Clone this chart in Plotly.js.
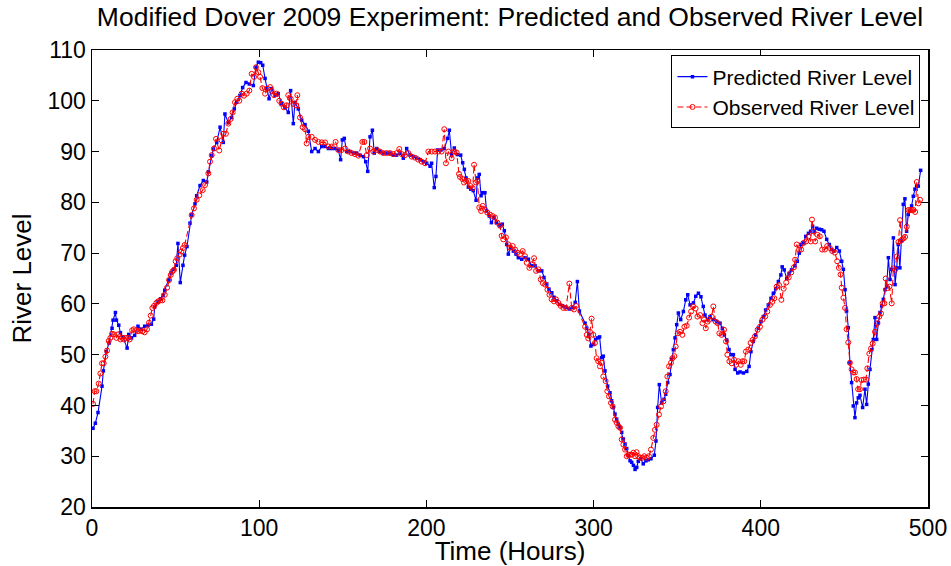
<!DOCTYPE html>
<html>
<head>
<meta charset="utf-8">
<script src="https://cdn.plot.ly/plotly-3.0.1.min.js"></script>
<style>html,body{margin:0;padding:0;background:#fff;}#chart{width:951px;height:566px;}</style>
</head>
<body>
<div id="chart"></div>
<script>
const predHours = [0.6,2,3.6,6,6.8,8.6,10.2,12,12.6,14,14.6,16,17,18.5,21,22,23.6,25.5,27.5,29.5,31.5,33.5,35.5,36.9,37.5,39.5,41,42.5,43.5,46,47.3,49,50.4,51.4,52.8,54.4,55.4,56.8,
58.6,59.6,61.6,62.6,64.6,66.6,68.6,69.6,71.6,72.6,74.6,76.6,78.5,79.5,81.5,83.5,85.1,86.5,88.5,90.1,92.1,94.1,96.5,98.1,99.5,100.9,102.1,103.5,104.5,105.9,107.5,109.5,111.4,113.4,115.4,117.4,118.8,120.4,121.4,123.4,125.4,127.4,129.4,
131.4,133.4,135.4,137.4,139.4,141.4,143.4,145.3,147.3,148.7,149.7,150.9,152.3,154.3,156.3,158.3,160.3,162.3,163.7,164.9,166.3,167.7,168.8,170.3,172.2,174.2,176.2,178.2,180.2,182.2,184.2,186.2,188.2,190.2,192.2,194.2,196.2,198.2,200.2,202.2,203.1,204.7,205.7,206.7,208.7,210.7,212.7,213.7,
215.1,216.7,218.5,220.5,221.7,222.7,223.7,225.1,226.5,228,229.7,230.5,231.6,232.7,233.7,235,236,237.6,238.9,240.4,242,244,245.4,246.6,248,249,250.4,252,253.6,255,257,259,261,263,265,267,269,270.3,272,273.3,275,276.3,277.9,279.5,281.5,283.5,285.5,287.5,289,290.3,291.5,
294.9,295.9,297.2,298.4,299.7,301.2,302.4,303.6,304.8,305.8,306.8,308.4,309.8,310.8,311.8,312.8,313.8,314.8,315.8,316.8,317.8,318.8,319.8,320.8,321.8,322.8,323.8,324.8,325.8,326.7,328.1,329.7,331.3,332.7,334.3,336.3,337.3,338.3,339.3,340.7,342.1,343.1,344.3,345.7,346.7,347.7,348.7,349.7,350.7,352.1,353.7,355.1,356.3,357.7,359.7,361.1,362.7,
364.2,365.6,366.6,368.2,369.6,371.6,373.6,375.6,377,378.2,379.6,381,382.2,383.6,384.6,386.2,387.6,389.6,391.6,393,394.1,395.5,396.9,398.5,400.1,401.5,402.9,404.5,406.1,407.5,408.9,410.5,412,412.8,414,415.5,416.9,418.4,420.4,421.8,423,424,425.4,426.9,428.5,429.8,431,432,433.4,435,436.4,437.8,439.4,441,442.4,443.8,445.4,447,448.4,449.4,450.4,451.3,452.3,453.3,454.3,455.3,456.3,457.3,458.3,
459.3,460.9,462.3,463.3,464.3,465.3,466.3,467.3,468.3,469.3,470.3,471.3,472.3,473.3,474.3,475.3,476.3,477.3,478.3,479.3,480.3,481.3,482.2,483.2,484.2,485.2,486.2,487.2,488.2,489.2,490.2,491.2,492.2,493.2,494.2,495.6];
const predLevel = [35.5,36.5,38.6,43.8,46.8,50.6,52.3,55.2,56.8,58.3,56.8,55.8,54.3,53.5,51.3,54,53.3,53.8,55.6,55,55.6,55.8,56,57,59.4,60.4,61,61.7,62.7,64.7,66.1,66.8,67.6,71.9,64.2,67.6,69.6,71.3,
75.9,77.5,79.7,81.3,83.3,84.3,84,86,89.2,90.5,91.8,94.8,91.8,97.4,95.7,96.7,98.4,99.7,101,102.6,103.6,103.3,103,106.6,107.6,107.5,107,104.4,102.4,100.4,102.4,101.1,101.4,99.4,98.7,97.7,102,95.5,99.7,98.4,96.2,95.3,94,
90,90.6,90,91,91,90.6,90.6,90.6,90.3,88.4,92.3,92.6,90,90,89.7,89.7,89.3,89,88,86.1,92.9,94.2,89.7,90.6,90,89.7,89.7,89.7,89.3,89.3,89.7,88.7,90.6,89.3,89,88.7,88.4,88,87.7,87.1,87.7,82.9,85.1,90.3,90.3,90.6,92.6,94.2,
89.4,90.7,89.4,89.3,87.8,86.5,84.8,83,82.6,82.3,80.4,84.8,85.5,81.3,81.9,81.9,78.3,77.3,76,77,76,75.4,75.7,74.4,71.7,69.8,71.1,70.4,69.8,69.1,68.8,69.1,68.8,67.5,67.5,66.5,66.5,65.2,63.9,62.9,62.2,61.3,60.6,59.9,59.6,59.3,59,59.3,60.3,64.4,58.6,
56.2,55.2,54,51.7,52,53,53.3,53.5,49.4,49.7,46.8,43.8,42.5,40.9,39.6,38.3,37.3,36.3,35.6,34.7,33.4,32.4,31.5,30.1,29.1,28.8,28.2,27.4,27.8,29,29.5,28.5,29.1,29.3,29.5,30.2,33,39.6,44.1,40.5,41.2,42.2,44.5,46.1,49.1,51,53.3,55.9,58.2,56.9,58.5,60.8,61.8,59.8,60.2,61.5,62.1,
61.4,59.5,57.8,56.9,57.5,56.9,56.5,56.2,55.2,53.9,52.9,51,50,50,47.1,46.4,46.6,46.4,46.7,47.7,50.6,52.6,53.9,55.2,56.5,57.5,58.8,59.8,61.1,62.1,63,64.4,65.7,67.3,66.7,65,66,66.7,67.5,68.4,70,71.7,72,73.3,73.9,74.3,75.3,74.3,74.9,74.7,74.6,74.3,72.7,71.7,70.7,70.4,71.1,70.4,68.4,66.8,62.8,58.6,55.3,48.4,44.5,39.9,37.6,40.5,41.5,
42,39.6,43.2,40.2,44.2,47.1,51,53,57.3,53,56.3,58.3,59.6,60.9,62.8,63.5,69.1,64.8,66.8,73,63.8,67.1,71.7,67.1,72.4,79.6,80.7,74.3,77.6,78.3,79.3,81.2,82.6,83.2,83.2,86.3];

const obsHours = [0.6,1.6,2.6,4,5,6,7,8,9,10,11,12,13.2,14.6,15.6,17,18,19.2,20.2,21.5,22.5,24,25.1,26.5,27.5,29,30.1,31.5,32.9,34.1,35.1,36.1,37.1,38.5,39.5,40.9,42.1,43.5,44.9,46.1,47.1,48.1,49,50,51,52.4,53.4,54.4,55.4,
59.6,61,62.6,64.2,66.2,67.6,69.6,70.6,71.6,73,74.2,76.1,77.5,78.5,80.1,81.5,82.9,84.1,85.5,86.9,88.1,89.5,90.9,92.5,94.1,95.5,96.9,98.1,99.5,100.5,101.9,103.5,104.9,106.5,107.5,108.9,110.5,112,113.4,114.8,116.4,117.4,118.8,120.4,122,122.8,124.4,126,127.4,128.4,
129.4,131.4,133.4,135.4,137.4,139.4,141.4,143.4,145.7,147.3,149.3,151.3,153.3,155.3,157.3,159.3,161.7,162.9,164.3,166.3,168.3,170.3,172.2,174.2,176.2,178.2,180.2,182.2,183.8,185.2,187.2,189.2,191.2,193.2,195.2,197.2,199.2,201.2,203.2,205.1,207.1,209.1,210.7,211.7,213.1,215.1,216.7,218.1,219.5,
220.1,221.5,222.5,223.7,225.1,226.5,227.7,228.5,229.7,230.5,231.6,232.7,233.7,235,236.4,238,239.6,241,242.4,244,245,246,247.6,249,250,251.6,253,254.4,256,257.6,259,260,261.6,263,264.4,265.6,267,268.4,269.6,271,272.4,273.6,274.9,276.3,277.5,278.9,280.3,281.9,283.5,285.5,286.9,288.3,289.5,
294.9,295.9,296.8,297.8,298.8,299.8,300.8,301.8,302.8,303.8,304.8,305.8,307.2,308.2,309.2,310.4,311.4,312.8,313.8,314.8,315.8,316.8,317.8,318.8,319.8,320.8,321.8,322.8,323.8,324.8,325.7,326.7,327.7,329.1,330.3,331.7,333.1,334.3,335.7,336.7,337.7,339.1,340.3,341.7,343.1,344.1,345.1,346.3,347.1,348.3,349.1,350.3,351.7,353.1,354.3,355.7,357.1,358.3,359.5,361,
362.1,363.7,365.1,366.1,367.1,368.2,369.2,370.6,371.6,373,374.2,375.2,376.6,378,379.2,380,381.2,382.6,384,385.2,386.6,388,389,390.1,391.1,392.5,393.9,395.1,396.5,398.1,399.5,401,402.6,403.9,405.5,406.9,408.1,409.5,410.9,412.3,413.7,415.2,416.7,418.2,419.8,420.5,421.5,422.9,424.1,425.5,427.1,428.5,429.9,430.6,431.5,432.5,433.9,435.3,436.7,438.3,439.7,441.3,442.7,444.3,445.7,446.7,447.7,448.4,449.4,450.4,451.3,452.3,453.3,454.3,455.3,456.3,457.3,458.2,459.3,
460.3,461.7,462.9,463.7,464.9,465.9,466.9,468.3,469.7,470.9,471.9,472.9,473.9,474.7,475.7,476.9,478.3,479.3,480.3,481.3,482.3,483.3,484.3,485.3,486.3,487.3,488.3,489.3,490.3,491.3,492.3,493.3,494.3,495.3];
const obsLevel = [40.3,42.8,42.8,44.3,46.3,48.3,48.3,49.6,50.8,52.7,53.3,54.1,54,53.3,54,53,53.3,53,53.3,53.3,53,54.8,55,54.8,54.6,54.8,54.6,54.4,55,56.3,57.7,59.2,59.6,60.2,60.5,60.7,60.7,61.8,63.2,64.7,65.7,66.4,66.7,68.4,69,69.7,70.3,71,71.6,
77.5,78.8,80.5,81.4,82.4,83.4,85.7,88,89.3,90.6,92.5,90.2,92.2,93.5,93.5,95.5,96.4,97.7,99.7,100.4,100,101.4,101,101.4,102,105.3,104.7,106.6,105.6,104.7,102.5,101.4,102.4,102.7,101.9,101.1,101.4,100,99.4,98.7,99.1,101.1,100.4,99.4,99.1,101.1,96.7,94.8,94.4,91.6,
92.9,92.9,92.3,91.9,91.8,91.8,91,91,91.9,90.3,90.3,90.6,90,89.7,89.5,89.2,91.9,91.9,89.3,90.6,90,90.3,90,89.7,89.7,89.7,89.5,89.7,90.5,89.5,89.3,89.7,89,88.8,88.4,88,87.7,90,90,90,90,90,94.4,87.7,90,88.7,90,89.8,85.6,
85,84.6,83.9,84.2,84.2,83.2,82.8,87.4,83.9,84.2,79,78.3,79.3,78.6,78,77.6,77.3,77,76,75.4,73.4,72.7,73.1,71.7,71.1,71.4,70.7,70.1,69.8,70.4,69.4,68.1,67.1,67.8,69,66.5,66.8,64.8,64.1,63.8,62.8,61.8,60.9,60.5,60.9,60.2,59.6,59.2,59.2,64,59.2,58.9,59.6,
55.5,53.9,53.2,54.5,57.1,53.9,52.3,49.3,48.7,47.7,48.4,45.7,44.8,42.8,41.8,40.5,39.8,37.2,36.6,35.9,35.6,33.3,32.3,31.3,30,30.3,30.3,30.3,30.7,30,30.8,30,29.7,29.7,30,29.7,30,31.3,33.6,35.2,36.2,38.2,39.8,40.8,42.8,45.7,47.7,48.4,49.3,49.7,51.6,54.2,54.5,53.9,55.5,55.7,57.3,58.5,59.5,59.1,
57.5,57.8,56.2,56.9,55.2,56.5,56.9,57.5,59.5,56.5,56.2,54.2,53.9,54.9,52.6,50,48.7,48.3,49,48,48.7,48,48.7,48.7,50.6,51,52.3,52.9,53.6,54.9,55.5,56.9,57.5,58.5,59.8,60.4,61.1,63.4,63.7,60.8,63,64.2,65.2,66.2,67.2,68.7,71.7,70.7,70.7,72,72.3,73.3,72.3,76.6,74.3,72.3,73.6,73.3,70.7,70.7,71.4,71,70.4,70.1,68.4,67.1,65.8,63.2,61.2,59.2,55,52.4,48.4,47.1,46.5,46.5,45.2,43.2,43.2,
45,45.1,45.1,47.3,50.2,51.2,52.2,54.5,56.2,57.5,58.1,60.1,60.1,65,63.1,63.4,60.1,67,66.7,69.3,72.2,76.5,72.6,72.9,73.2,75.2,78.5,78.5,78.5,78.5,78.1,84,79.8,80.5];

const xTickVals = [0,100,200,300,400,500];
const yTickVals = [20,30,40,50,60,70,80,90,100,110];
const seriesNames = ['Predicted River Level','Observed River Level'];
const titleText = 'Modified Dover 2009 Experiment: Predicted and Observed River Level';
const xTitle = 'Time (Hours)';
const yTitle = 'River Level';

const FONT = 'Liberation Sans, Arial, Helvetica, sans-serif';

const traces = [
  {
    x: predHours, y: predLevel, name: seriesNames[0], type: 'scatter', mode: 'lines+markers',
    line: {color: '#0000ff', width: 1.1},
    marker: {symbol: 'square', size: 3.5, color: '#0000ff'}
  },
  {
    x: obsHours, y: obsLevel, name: seriesNames[1], type: 'scatter', mode: 'lines+markers',
    line: {color: '#ff0000', width: 1.1, dash: '6px,3px'},
    marker: {symbol: 'circle-open', size: 5, color: '#ff0000', line: {width: 1, color: '#ff0000'}}
  }
];

const axisCommon = {
  showgrid: false, zeroline: false, showline: true, linecolor: '#000', linewidth: 1.5,
  mirror: 'ticks', ticks: 'inside', ticklen: 7, tickcolor: '#000', tickwidth: 1,
  tickfont: {family: FONT, size: 23, color: '#000'}
};

const layout = {
  width: 951, height: 566,
  paper_bgcolor: '#fff', plot_bgcolor: '#fff',
  margin: {l: 92, r: 23, t: 50, b: 59},
  title: {text: titleText, font: {family: FONT, size: 26.5, color: '#000'},
          xref: 'paper', x: 0.5, xanchor: 'center', yref: 'container', y: 0.97, yanchor: 'middle'},
  xaxis: Object.assign({}, axisCommon, {
    range: [0, 500], tickvals: xTickVals, ticktext: xTickVals.map(String),
    title: {text: xTitle, font: {family: FONT, size: 26, color: '#000'}, standoff: 1}
  }),
  yaxis: Object.assign({}, axisCommon, {
    range: [20, 110], tickvals: yTickVals, ticktext: yTickVals.map(String),
    title: {text: yTitle, font: {family: FONT, size: 26, color: '#000'}, standoff: 8}
  }),
  legend: {
    x: 0.991, xanchor: 'right', y: 0.988, yanchor: 'top',
    bgcolor: '#fff', bordercolor: '#000', borderwidth: 1,
    font: {family: FONT, size: 21, color: '#000'}, tracegroupgap: 0, itemwidth: 30
  },
  showlegend: true
};

Plotly.newPlot('chart', traces, layout, {staticPlot: true, displayModeBar: false});
</script>
</body>
</html>
